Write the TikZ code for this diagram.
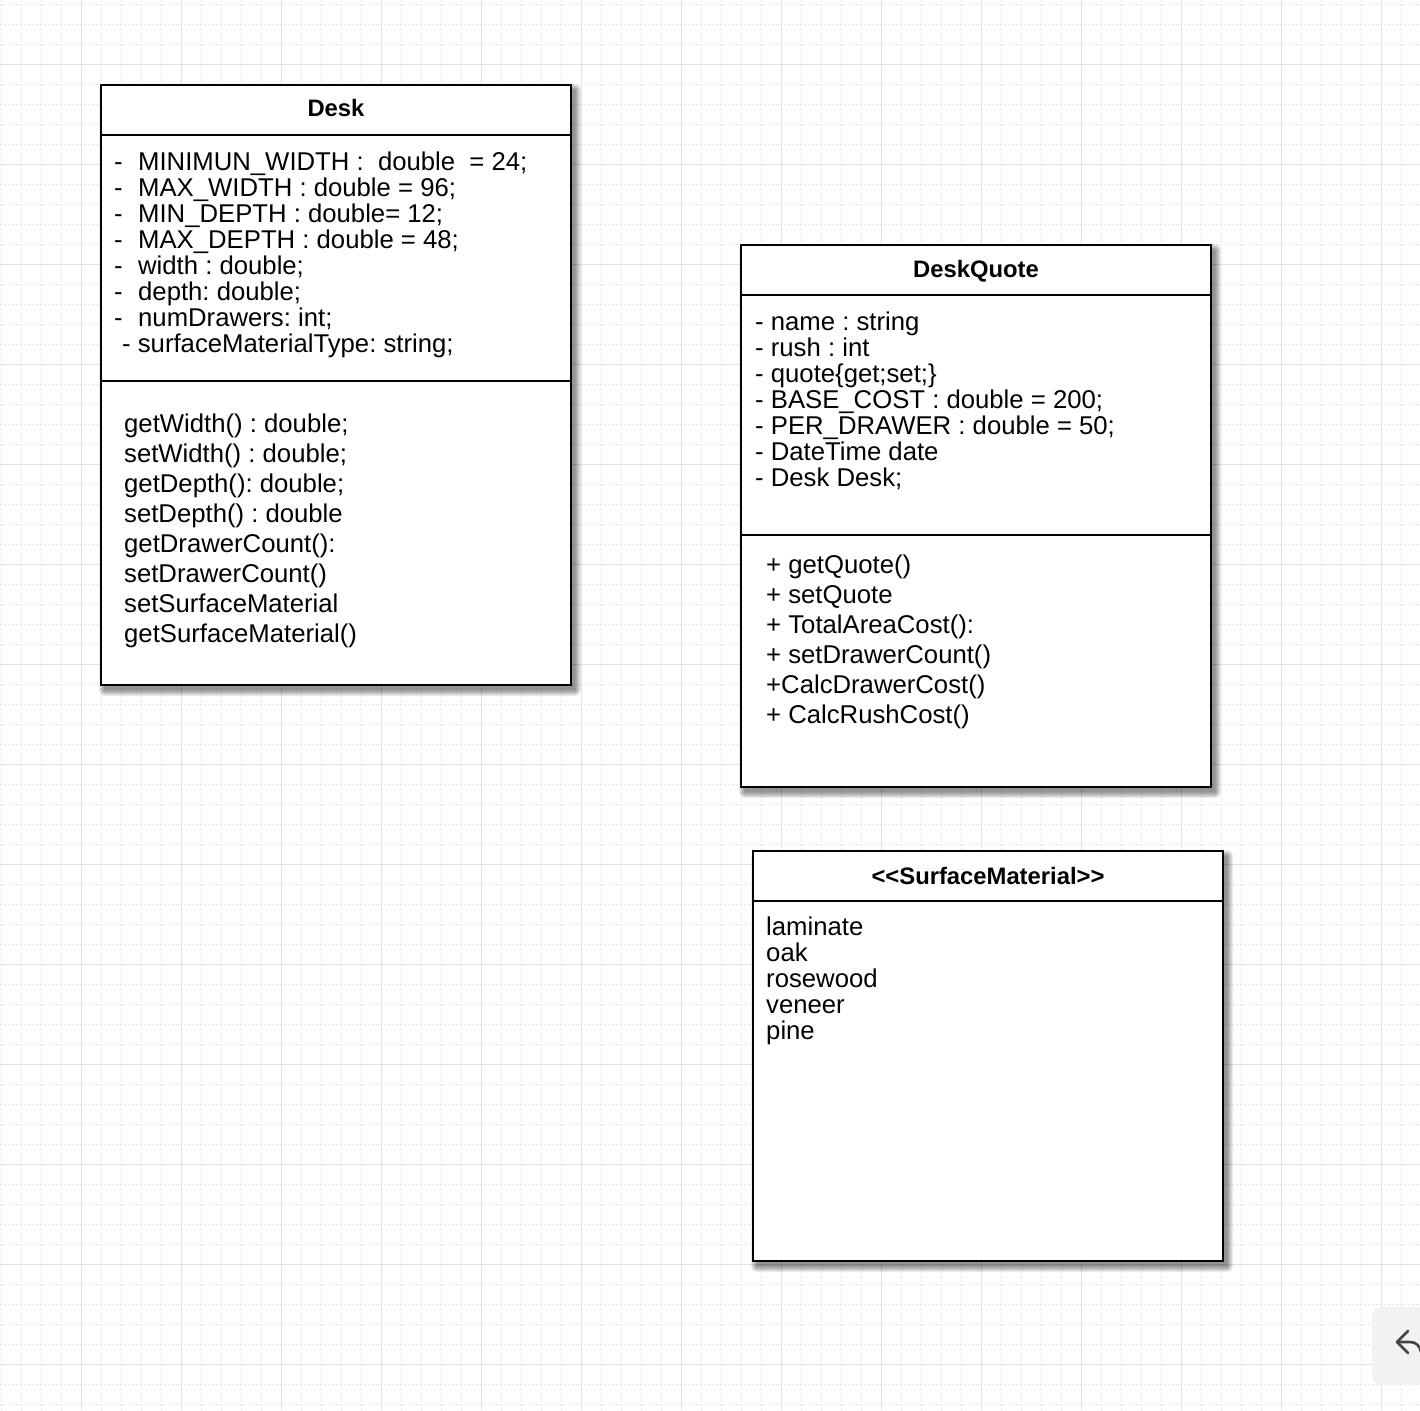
\documentclass[tikz,border=0pt]{standalone}
\usepackage{fontspec}
\setmainfont{Liberation Sans}
\frenchspacing
\definecolor{gridmaj}{HTML}{E0E0E0}
\definecolor{gridmin}{HTML}{E2E2E2}
\definecolor{iconbg}{HTML}{F2F2F2}
\definecolor{icon}{HTML}{444444}
\newcommand{\SoftShadow}[4]{%
  \foreach \e in {0,...,6}{%
    \fill[black,opacity=0.075,rounded corners=\e pt] ({#1+4-\e},{#2+5-\e}) rectangle ({#3+4+\e},{#4+5+\e});}}
\begin{document}
\begin{tikzpicture}[x=1pt,y=-1pt,
  umlbox/.style={draw=black,line width=2pt,fill=white,anchor=north west,inner sep=0pt,outer sep=0pt},
  umltitle/.style={font=\frenchspacing\bfseries\fontsize{23.8}{26}\selectfont,anchor=base,inner sep=0pt},
  umltext/.style={font=\frenchspacing\fontsize{25.7}{26}\selectfont,anchor=base west,inner sep=0pt},
  sepline/.style={line width=2pt,draw=black}]
\useasboundingbox (0,0) rectangle (1420,1410);
\clip (0,0) rectangle (1420,1410);
\fill[white] (0,0) rectangle (1420,1410);
% grid
\foreach \k in {0,...,70}{%
  \draw[gridmin,line width=1pt,dash pattern=on 2pt off 2pt] ({1.5+20*\k},0) -- ({1.5+20*\k},1410);
  \draw[gridmin,line width=1pt,dash pattern=on 2pt off 2pt] (0,{4.5+20*\k}) -- (1420,{4.5+20*\k});}
\foreach \k in {0,...,13}{%
  \draw[gridmaj,line width=1.6pt] ({81.5+100*\k},0) -- ({81.5+100*\k},1410);
  \draw[gridmaj,line width=1.6pt] (0,{64.5+100*\k}) -- (1420,{64.5+100*\k});}
% shadows
\SoftShadow{101}{85}{571}{685}
\SoftShadow{741}{245}{1211}{787}
\SoftShadow{753}{851}{1223}{1261}
% Desk
\node[umlbox,minimum width=470pt,minimum height=600pt] (desk) at (101,85) {};
\draw[sepline] ([yshift=-50pt]desk.north west) -- ([yshift=-50pt]desk.north east);
\draw[sepline] ([yshift=-296pt]desk.north west) -- ([yshift=-296pt]desk.north east);
\node[umltitle] (deskT) at (336,116.5) {Desk};
\foreach \t [count=\i from 0] in {%
  {\makebox[24pt][l]{-}MINIMUN\_WIDTH :\ \ double\ \ = 24;},
  {\makebox[24pt][l]{-}MAX\_WIDTH : double = 96;},
  {\makebox[24pt][l]{-}MIN\_DEPTH : double= 12;},
  {\makebox[24pt][l]{-}MAX\_DEPTH : double = 48;},
  {\makebox[24pt][l]{-}width : double;},
  {\makebox[24pt][l]{-}depth: double;},
  {\makebox[24pt][l]{-}numDrawers: int;},
  {\hspace{8pt}- surfaceMaterialType: string;}}
  \node[umltext] (deskA\i) at (114,{170+26*\i}) {\t};
\foreach \t [count=\i from 0] in {%
  {getWidth() : double;},
  {setWidth() : double;},
  {getDepth(): double;},
  {setDepth() : double},
  {getDrawerCount():},
  {setDrawerCount()},
  {setSurfaceMaterial},
  {getSurfaceMaterial()}}
  \node[umltext] (deskM\i) at (124,{432+30*\i}) {\t};
% DeskQuote
\node[umlbox,minimum width=470pt,minimum height=542pt] (quote) at (741,245) {};
\draw[sepline] ([yshift=-50pt]quote.north west) -- ([yshift=-50pt]quote.north east);
\draw[sepline] ([yshift=-290pt]quote.north west) -- ([yshift=-290pt]quote.north east);
\node[umltitle] (quoteT) at (976,277) {DeskQuote};
\foreach \t [count=\i from 0] in {%
  {- name : string},
  {- rush : int},
  {- quote\{get;set;\}},
  {- BASE\_COST : double = 200;},
  {- PER\_DRAWER : double = 50;},
  {- DateTime date},
  {- Desk Desk;}}
  \node[umltext] (quoteA\i) at (755,{330+26*\i}) {\t};
\foreach \t [count=\i from 0] in {%
  {+ getQuote()},
  {+ setQuote},
  {+ TotalAreaCost():},
  {+ setDrawerCount()},
  {+CalcDrawerCost()},
  {+ CalcRushCost()}}
  \node[umltext] (quoteM\i) at (766,{573+30*\i}) {\t};
% SurfaceMaterial
\node[umlbox,minimum width=470pt,minimum height=410pt] (surf) at (753,851) {};
\draw[sepline] ([yshift=-50pt]surf.north west) -- ([yshift=-50pt]surf.north east);
\node[umltitle] (surfT) at (988,884.5) {<\kern0pt<SurfaceMaterial>\kern0pt>};
\foreach \t [count=\i from 0] in {laminate,oak,rosewood,veneer,pine}
  \node[umltext] (surfA\i) at (766,{935+26*\i}) {\t};
% undo icon
\fill[iconbg,rounded corners=8pt] (1372,1307) rectangle (1450,1384);
\draw[icon,line width=2.6pt,line cap=round,line join=round] (1408,1331) -- (1397,1342) -- (1408,1353);
\draw[icon,line width=2.6pt,line cap=round] (1397,1342) -- (1410,1342) .. controls (1416,1342) and (1420,1346) .. (1421,1352);
\end{tikzpicture}
\end{document}
